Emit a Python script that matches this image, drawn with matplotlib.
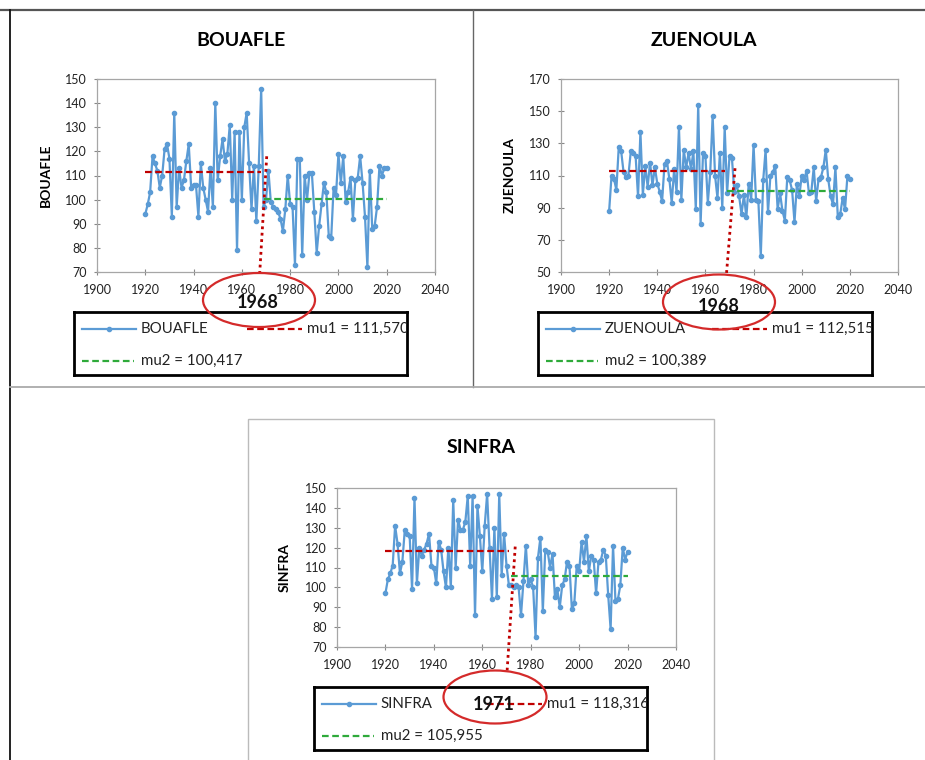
import matplotlib
matplotlib.use("Agg")
import matplotlib.pyplot as plt
from matplotlib.lines import Line2D
from matplotlib.patches import Ellipse, Rectangle
import numpy as np

plt.rcParams['font.family'] = ['Lato', 'DejaVu Sans']

W, H = 925, 760

# --- data ---
years = list(range(1920, 2021))

bouafle = [94, 98, 103, 118, 115, 112, 105, 110, 121, 123,
           117, 93, 136, 97, 113, 105, 108, 116, 123, 105,
           106, 106, 93, 115, 105, 100, 95, 113, 97, 140,
           108, 118, 125, 116, 119, 131, 100, 128, 79, 128,
           100, 130, 136, 115, 96, 114, 91, 114, 146,
           97, 100, 112, 99, 97, 96, 95, 92, 87, 96,
           110, 98, 97, 73, 117, 117, 77, 110, 100, 111,
           111, 95, 78, 89, 98, 107, 103, 85, 84, 105,
           102, 119, 107, 118, 99, 103, 109, 92, 108, 109,
           118, 107, 93, 72, 112, 88, 89, 97, 114, 110,
           113, 113]

zuenoula = [88, 110, 108, 101, 128, 125, 112, 109, 110, 125,
            124, 122, 97, 137, 98, 116, 103, 118, 104, 115,
            105, 100, 94, 117, 119, 108, 93, 114, 100, 140,
            95, 126, 115, 124, 114, 125, 89, 154, 80, 124,
            122, 93, 112, 147, 110, 96, 124, 90, 140,
            99, 122, 121, 100, 104, 97, 86, 98, 84, 105,
            95, 129, 95, 94, 60, 107, 126, 87, 110, 112,
            116, 89, 99, 88, 82, 109, 107, 101, 81, 105,
            97, 110, 107, 113, 99, 100, 115, 94, 108, 109,
            115, 126, 108, 97, 92, 115, 84, 86, 96, 89,
            110, 108]

sinfra = [97, 104, 107, 111, 131, 122, 107, 113, 129, 127,
          126, 99, 145, 102, 120, 116, 119, 122, 127, 111,
          110, 102, 123, 119, 108, 100, 120, 100, 144, 110,
          134, 129, 129, 133, 146, 111, 146, 86, 141, 126,
          108, 131, 147, 120, 94, 130, 95, 147, 106, 127,
          111, 101,
          101, 100, 101, 100, 86, 103, 121, 101, 104, 100,
          75, 115, 125, 88, 119, 118, 110, 117, 95, 99,
          90, 101, 104, 113, 111, 89, 92, 111, 108, 123,
          113, 126, 108, 116, 114, 97, 113, 114, 119, 116,
          96, 79, 121, 93, 94, 101, 120, 114, 118]

stations = ["BOUAFLE", "ZUENOULA", "SINFRA"]
series = [bouafle, zuenoula, sinfra]
mu1 = [111.570, 112.515, 118.316]
mu2 = [100.417, 100.389, 105.955]
breaks = [1968, 1968, 1971]
mu1_txt = ["111,570", "112,515", "118,316"]
mu2_txt = ["100,417", "100,389", "105,955"]

ylims = [(70, 150, 10), (50, 170, 20), (70, 150, 10)]

# --- layout in pixels (x0, y0, x1, y1 from top-left) ---
layout = [
    dict(ax=(97, 79, 435, 272), title=(241, 40), ylab=46,
         leg=(74, 312, 407, 375), ell=(259, 300, 112, 54), yr=(258, 303),
         dot=(2.3, 6.4, -0.7, 68)),
    dict(ax=(561, 79, 898, 272), title=(704, 40), ylab=510,
         leg=(538, 312, 872, 375), ell=(719, 302, 112, 55), yr=(719, 307),
         dot=(4.3, 2.0, 0.7, 48)),
    dict(ax=(337, 488, 676, 647), title=(481, 448), ylab=285,
         leg=(314, 687, 647, 750), ell=(495, 697, 103, 53), yr=(494, 704),
         dot=(2.6, 2.2, -0.8, 57)),
]

BLUE = "#5B9BD5"
RED = "#C00000"
GREEN = "#2EAA3A"
ELL = "#D42A2A"
TXT = "#222222"


def fx(x):
    return x / W


def fy(y):
    return 1 - y / H


fig = plt.figure(figsize=(W / 100, H / 100), dpi=100)

# table lines
def hline(x0, x1, y, **kw):
    fig.add_artist(Line2D([fx(x0), fx(x1)], [fy(y), fy(y)], transform=fig.transFigure, **kw))


def vline(x, y0, y1, **kw):
    fig.add_artist(Line2D([fx(x), fx(x)], [fy(y0), fy(y1)], transform=fig.transFigure, **kw))


hline(0, 925, 10, color="#555555", lw=1.6)
vline(10, 10, 760, color="#111111", lw=1.3)
vline(473, 10, 387, color="#666666", lw=1.0)
hline(10, 925, 387, color="#aaaaaa", lw=1.3)
fig.add_artist(Rectangle((fx(248), fy(762)), fx(714) - fx(248), fy(419) - fy(762),
                         transform=fig.transFigure, fill=False, ec="#bbbbbb", lw=1.0))

for i, name in enumerate(stations):
    L = layout[i]
    x0, y0, x1, y1 = L["ax"]
    ax = fig.add_axes([fx(x0), fy(y1), fx(x1) - fx(x0), fy(y0) - fy(y1)])
    vals = series[i]
    brk = breaks[i]

    ax.plot(years, vals, color=BLUE, lw=1.6, marker="o", ms=3, zorder=3)
    ax.plot([1920, brk], [mu1[i], mu1[i]], color=RED, lw=1.6, dashes=(3, 1.6), zorder=4)
    ax.plot([brk + 1, 2020], [mu2[i], mu2[i]], color=GREEN, lw=1.6, dashes=(3, 1.6), zorder=4)

    dxt, dyt, dxb, yb = L["dot"]
    ax.plot([brk + dxt, brk + dxb], [mu1[i] + dyt, yb], color=RED, lw=2.0,
            linestyle=(0, (1, 1.3)), clip_on=False, zorder=5)

    lo, hi, st = ylims[i]
    ax.set_xlim(1900, 2040)
    ax.set_ylim(lo, hi)
    ax.set_xticks(range(1900, 2041, 20))
    ax.set_yticks(range(lo, hi + 1, st))
    ax.tick_params(direction="inout", length=5, width=0.8, color="#888888",
                   labelsize=9, labelcolor=TXT)
    ax.tick_params(axis="x", pad=6)
    ax.tick_params(axis="y", pad=5)
    for sp in ax.spines.values():
        sp.set_color("#a6a6a6")
        sp.set_linewidth(0.9)

    tx, ty = L["title"]
    fig.text(fx(tx), fy(ty), name, ha="center", va="center", fontsize=14, fontweight="bold")
    fig.text(fx(L["ylab"]), fy((y0 + y1) / 2), name, ha="center", va="center",
             rotation=90, fontsize=10, fontweight="bold")

    # legend box
    lx0, ly0, lx1, ly1 = L["leg"]
    lax = fig.add_axes([fx(lx0), fy(ly1), fx(lx1) - fx(lx0), fy(ly0) - fy(ly1)], zorder=5)
    lax.set_xlim(0, 1)
    lax.set_ylim(0, 1)
    lax.set_xticks([])
    lax.set_yticks([])
    for sp in lax.spines.values():
        sp.set_color("black")
        sp.set_linewidth(2.0)
    lax.plot([0.025, 0.185], [0.73, 0.73], color=BLUE, lw=1.6)
    lax.plot([0.105], [0.73], color=BLUE, marker="o", ms=3)
    lax.text(0.2, 0.73, name, va="center", fontsize=10.8, color=TXT)
    lax.plot([0.52, 0.685], [0.73, 0.73], color=RED, lw=1.6, dashes=(3, 1.6))
    lax.text(0.70, 0.73, "mu1 = " + mu1_txt[i], va="center", fontsize=10.8, color=TXT,
             clip_on=True)
    lax.plot([0.025, 0.18], [0.22, 0.22], color=GREEN, lw=1.6, dashes=(3, 1.6))
    lax.text(0.2, 0.22, "mu2 = " + mu2_txt[i], va="center", fontsize=10.8, color=TXT)

    # break annotation
    ex, ey, ew, eh = L["ell"]
    fig.add_artist(Ellipse((fx(ex), fy(ey)), fx(ew), eh / H, transform=fig.transFigure,
                           fill=False, ec=ELL, lw=1.6, zorder=10))
    yx, yy = L["yr"]
    fig.text(fx(yx), fy(yy), str(brk), ha="center", va="center", fontsize=13,
             fontweight="bold", color="#111111", zorder=9)

fig.savefig("out.png", dpi=100)
